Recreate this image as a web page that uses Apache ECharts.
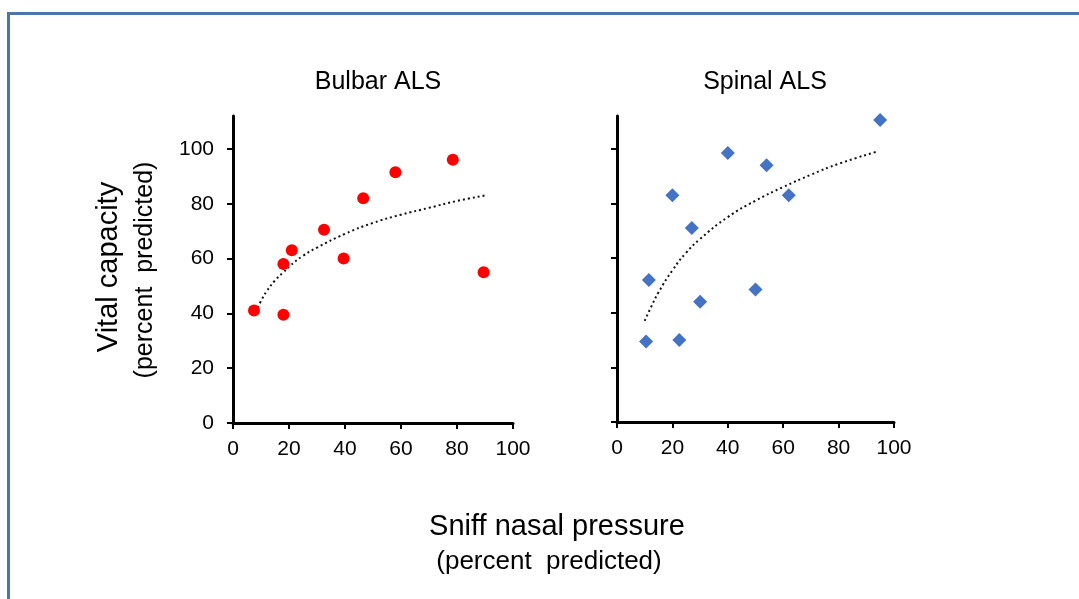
<!DOCTYPE html>
<html>
<head>
<meta charset="utf-8">
<script src="https://cdn.jsdelivr.net/npm/echarts@6/dist/echarts.min.js"></script>
<style>
  html, body { margin: 0; padding: 0; background: #fff; }
  #chart { width: 1079px; height: 599px; }
</style>
</head>
<body>
<div id="chart"></div>
<script>
// panel titles
const panelTitles = ['Bulbar ALS', 'Spinal ALS']

// y ticks shown (axis runs a bit past 100)
const yTicks = [0, 20, 40, 60, 80, 100]

// Bulbar ALS: [sniff nasal pressure, vital capacity]
const bulbarPoints = [
  [7.5, 41], [18, 58], [18, 39.5], [21, 63], [32.5, 70.5],
  [39.5, 60], [46.5, 82], [58, 91.5], [78.5, 96], [89.5, 55]
]
// dotted trend line
const bulbarTrend = [
  [8, 40.5], [10, 44.5], [12, 48], [15, 52], [18, 55], [20, 57], [25, 61],
  [30, 64], [40, 69], [50, 73], [60, 76], [70, 78.5], [80, 81], [90, 83]
]

// Spinal ALS
const spinalPoints = [
  [10.5, 29.5], [11.5, 52], [20, 83], [22.5, 30], [27, 71], [30, 44],
  [40, 98.5], [50, 48.5], [54, 94], [62, 83], [95, 110.5]
]
const spinalTrend = [
  [10, 37], [12.5, 42.5], [15, 47.5], [20, 55.5], [25, 62], [30, 67],
  [40, 75], [50, 81], [60, 86], [70, 90.5], [80, 94.5], [94, 99]
]

const chart = echarts.init(document.getElementById('chart'))

const font = 'Liberation Sans, Arial, sans-serif'
const black = '#000'

const xAxisBase = (gridIndex) => ({
  type: 'value',
  gridIndex: gridIndex,
  min: 0,
  max: 100,
  interval: 20,
  splitLine: { show: false },
  axisLine: { show: true, onZero: false, lineStyle: { color: black, width: 3 } },
  axisTick: { show: true, inside: false, length: 6, lineStyle: { color: black, width: 2 } },
  axisLabel: { color: black, fontSize: 21, fontFamily: font, margin: 16 }
})

const yAxisBase = (gridIndex, showLabels) => ({
  type: 'value',
  gridIndex: gridIndex,
  min: 0,
  max: 112,
  splitLine: { show: false },
  axisLine: { show: true, onZero: false, lineStyle: { color: black, width: 3 } },
  axisTick: { show: true, length: 6, customValues: yTicks, lineStyle: { color: black, width: 2 } },
  axisLabel: { show: showLabels, customValues: yTicks, color: black, fontSize: 21, fontFamily: font, margin: 19 }
})

const trendSeries = (idx, data) => ({
  type: 'line',
  xAxisIndex: idx,
  yAxisIndex: idx,
  data: data,
  smooth: true,
  symbol: 'none',
  silent: true,
  lineStyle: { color: '#111', width: 2, type: [2, 3] },
  z: 1
})

const option = {
  backgroundColor: '#fff',
  animation: false,
  title: [
    {
      text: panelTitles[0], left: 373, top: 65, textAlign: 'center',
      textStyle: { fontSize: 25, fontWeight: 'normal', color: black, fontFamily: font }
    },
    {
      text: panelTitles[1], left: 760, top: 65, textAlign: 'center',
      textStyle: { fontSize: 25, fontWeight: 'normal', color: black, fontFamily: font }
    }
  ],
  grid: [
    { left: 233, top: 116, width: 280, height: 307 },
    { left: 617, top: 116, width: 277, height: 306 }
  ],
  xAxis: [xAxisBase(0), xAxisBase(1)],
  yAxis: [yAxisBase(0, true), yAxisBase(1, false)],
  series: [
    trendSeries(0, bulbarTrend),
    {
      type: 'scatter',
      xAxisIndex: 0,
      yAxisIndex: 0,
      data: bulbarPoints,
      symbol: 'circle',
      symbolSize: 12,
      itemStyle: { color: '#ff0000', opacity: 1 },
      z: 2
    },
    trendSeries(1, spinalTrend),
    {
      type: 'scatter',
      xAxisIndex: 1,
      yAxisIndex: 1,
      data: spinalPoints,
      symbol: 'diamond',
      symbolSize: [14, 14],
      itemStyle: { color: '#4472c4', opacity: 1 },
      z: 2
    }
  ],
  graphic: [
    {
      type: 'rect',
      shape: { x: 8.5, y: 13.5, width: 1200, height: 800 },
      style: { fill: 'none', stroke: '#4a77a7', lineWidth: 3 },
      silent: true
    },
    {
      type: 'text',
      x: 109, y: 267, rotation: Math.PI / 2,
      style: { text: 'Vital capacity', fontSize: 29, fontFamily: font, fill: black, align: 'center', verticalAlign: 'middle' }
    },
    {
      type: 'text',
      x: 145, y: 270, rotation: Math.PI / 2,
      style: { text: '(percent  predicted)', fontSize: 25, fontFamily: font, fill: black, align: 'center', verticalAlign: 'middle' }
    },
    {
      type: 'text',
      x: 557, y: 527,
      style: { text: 'Sniff nasal pressure', fontSize: 29, fontFamily: font, fill: black, align: 'center', verticalAlign: 'middle' }
    },
    {
      type: 'text',
      x: 549, y: 562,
      style: { text: '(percent  predicted)', fontSize: 26, fontFamily: font, fill: black, align: 'center', verticalAlign: 'middle' }
    }
  ]
}

chart.setOption(option)
</script>
</body>
</html>
